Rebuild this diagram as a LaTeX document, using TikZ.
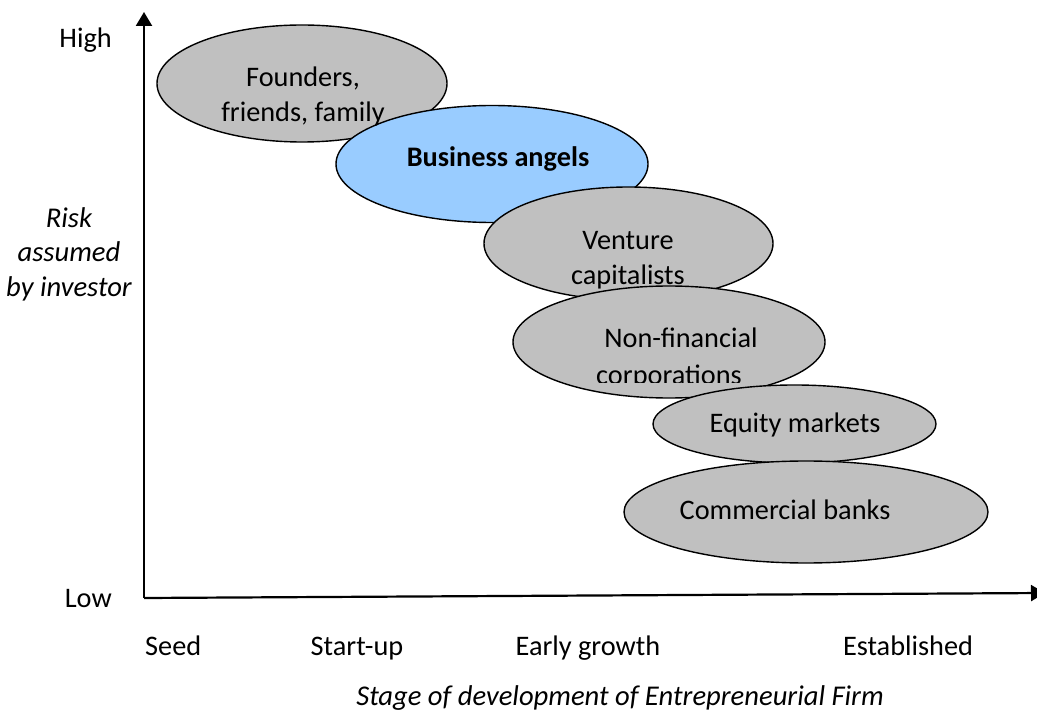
\documentclass[tikz,border=0pt]{standalone}
\usepackage{fontspec}
\setmainfont{Carlito}
\usetikzlibrary{shapes.geometric,arrows.meta}
\definecolor{fundgray}{RGB}{192,192,192}
\definecolor{angelblue}{RGB}{153,204,255}
\begin{document}
\begin{tikzpicture}[x=1pt,y=-1pt,
  fund/.style={ellipse, draw=black, line width=1.4pt, fill=fundgray, inner sep=0pt},
  lbl/.style={font=\fontsize{28.3}{34.5}\selectfont, inner sep=0pt, align=center},
  lblb/.style={lbl, font=\fontsize{28.3}{34.5}\selectfont\bfseries},
  lbli/.style={lbl, font=\fontsize{28.6}{34.5}\selectfont\itshape},
  axis/.style={line width=2.2pt, -{Triangle[length=14pt,width=16pt]}}]
\useasboundingbox (0,0) rectangle (1037,711);

% sources of finance, drawn from the earliest stage to the latest
\node[fund, minimum width=290pt, minimum height=117pt] (ff) at (302,83.5) {};
\node[fund, fill=angelblue, minimum width=312pt, minimum height=117pt] (ba) at (492,164) {};
\node[fund, minimum width=289pt, minimum height=113pt] (vc) at (628.5,243.5) {};
\node[fund, minimum width=312pt, minimum height=112pt] (nf) at (669,342) {};
\node[fund, minimum width=283pt, minimum height=78pt] (em) at (794.5,424) {};
\node[fund, minimum width=364pt, minimum height=102pt] (cb) at (806,512) {};

% their names, set over all the ellipses
\node[lbl] (ff-t) at (303,96.5) {Founders,\\friends, family};
\node[lblb, anchor=base] (ba-t) at (498,167) {Business angels};
\node[lbl] (vc-t) at (628,260) {Venture\\capitalists};
\begin{scope}
  \clip (500,280) rectangle (840,382.5);
  \node[lbl] (nf-t) at (681,358) {Non-financial\\[2.5pt]corporations\hspace*{24pt}};
\end{scope}
\node[lbl, anchor=base] (em-t) at (795,433) {Equity markets};
\node[lbl, anchor=base] (cb-t) at (785,519) {Commercial banks};

% axes
\coordinate (o) at (144,598);
\coordinate (ytip) at (144,12);
\coordinate (xtip) at (1045,593);
\draw[axis] (o) -- (ytip);
\draw[axis] (o) -- (xtip);

% axis labels
\node[lbl, anchor=base east] (high) at (112,48) {High};
\node[lbl, anchor=base east] (low) at (112,607) {Low};
\node[lbli] (risk) at (69,254) {Risk\\assumed\\by investor};
\node[lbl, anchor=base west] (seed) at (145,655) {Seed};
\node[lbl, anchor=base] (startup) at (357,655) {Start-up};
\node[lbl, anchor=base] (early) at (588,655) {Early growth};
\node[lbl, anchor=base] (estab) at (908,655) {Established};
\node[lbli, anchor=base] (stage) at (620,705) {Stage of development of Entrepreneurial Firm};
\end{tikzpicture}
\end{document}
